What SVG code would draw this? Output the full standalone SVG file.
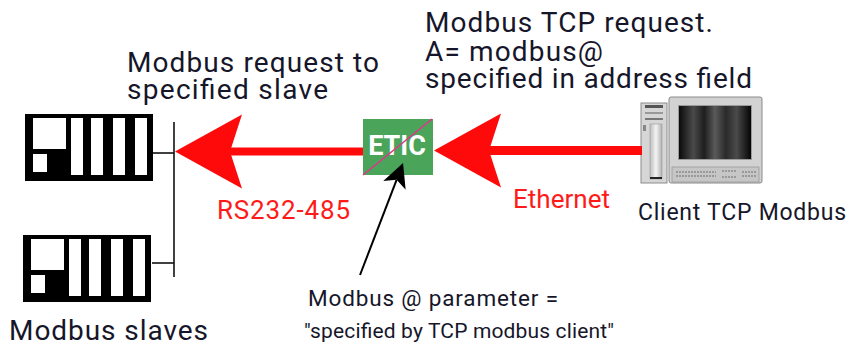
<svg xmlns="http://www.w3.org/2000/svg" width="848" height="347" viewBox="0 0 848 347">
<style>
  .lbl { font-family: Roboto, "Liberation Sans", sans-serif; fill: #16162a; }
  .big { font-size: 28px; }
  .small { font-size: 21px; }
  .red { font-family: Roboto, "Liberation Sans", sans-serif; font-size: 26px; fill: #ff1a1a; }
  .wire { stroke: #111; stroke-width: 1.6; fill: none; }
  .redline { stroke: #ff0a0a; fill: none; }
</style>
<defs>
  <marker id="redHead" markerUnits="userSpaceOnUse" markerWidth="70" markerHeight="80" viewBox="0 0 70 80" refX="12" refY="40" orient="auto" overflow="visible">
    <path d="M0,3 L67,40 L0,77 L12,40 Z" fill="#ff0a0a"/>
  </marker>
  <marker id="blackHead" markerUnits="userSpaceOnUse" markerWidth="26" markerHeight="26" viewBox="0 0 26 26" refX="6" refY="12" orient="auto" overflow="visible">
    <path d="M0,0 L24,12 L0,24 L6,12 Z" fill="#000"/>
  </marker>
  <g id="slaveShape">
    <rect x="0" y="0" width="128" height="67" fill="#000"/>
    <rect x="8" y="4" width="33" height="31" fill="#fff"/>
    <rect x="8" y="40" width="14" height="18" fill="#fff"/>
    <rect x="46" y="4" width="12" height="57" fill="#fff"/>
    <rect x="66" y="4" width="12" height="57" fill="#fff"/>
    <rect x="88" y="4" width="12" height="57" fill="#fff"/>
    <rect x="110" y="4" width="12" height="57" fill="#fff"/>
  </g>
  <linearGradient id="screenGrad" x1="0" y1="0" x2="1" y2="0">
    <stop offset="0" stop-color="#0a0a0a"/>
    <stop offset="0.2" stop-color="#4a4a4a"/>
    <stop offset="0.35" stop-color="#1e1e1e"/>
    <stop offset="0.5" stop-color="#5a5a5a"/>
    <stop offset="0.65" stop-color="#2a2a2a"/>
    <stop offset="0.8" stop-color="#4a4a4a"/>
    <stop offset="1" stop-color="#050505"/>
  </linearGradient>
  <linearGradient id="towerGrad" x1="0" y1="0" x2="1" y2="0">
    <stop offset="0" stop-color="#bdbdbd"/>
    <stop offset="0.5" stop-color="#f4f4f4"/>
    <stop offset="1" stop-color="#b0b0b0"/>
  </linearGradient>
</defs>

<g id="slave1">
  <use href="#slaveShape" x="25" y="114"/>
</g>
<g id="slave2">
  <use href="#slaveShape" x="23" y="235"/>
  <text class="lbl big" x="9" y="340" textLength="199">Modbus slaves</text>
</g>

<g id="etic">
  <rect x="363" y="119" width="70" height="56" fill="#4aa55a"/>
  <text x="397" y="155" text-anchor="middle" font-family="Roboto, 'Liberation Sans', sans-serif" font-weight="bold" font-size="27" fill="#fff">ETIC</text>
  <line x1="363" y1="175" x2="432" y2="119" stroke="#e0358c" stroke-width="1.6"/>
</g>

<g id="client">
  <rect x="641" y="103" width="26" height="80" fill="#d6d6d6" stroke="#8c8c8c" stroke-width="1"/>
  <rect x="645" y="105" width="18" height="3" fill="#555"/>
  <rect x="645" y="112" width="18" height="2" fill="#999"/>
  <rect x="645" y="118" width="18" height="2" fill="#777"/>
  <rect x="643" y="125" width="3" height="6" fill="#888"/>
  <rect x="650" y="124" width="12" height="55" fill="url(#towerGrad)" stroke="#9a9a9a" stroke-width="0.6"/>
  <rect x="650" y="177" width="12" height="2" fill="#222"/>
  <rect x="669" y="97" width="93" height="86" rx="2" fill="#d2d2d2" stroke="#8a8a8a" stroke-width="1"/>
  <rect x="678" y="105" width="74" height="55" fill="#9a9a9a"/>
  <rect x="679" y="106" width="72" height="53" fill="url(#screenGrad)"/>
  <rect x="672" y="167" width="87" height="15" fill="#c6c6c6" stroke="#9a9a9a" stroke-width="0.8"/>
  <path d="M676,172 h40 M676,176 h40 M722,171 h14 M722,177 h14 M742,172 h14 M742,176 h14" stroke="#8a8a8a" stroke-width="1.4" stroke-dasharray="2,1"/>
  <text class="lbl" x="638" y="220" font-size="23" textLength="208">Client TCP Modbus</text>
</g>

<g id="connectors">
  <line class="wire" x1="153" y1="153" x2="174" y2="153"/>
  <line class="wire" x1="152" y1="263" x2="174" y2="263"/>
  <line class="wire" x1="174" y1="122" x2="174" y2="277"/>
  <line class="redline" x1="363" y1="151.5" x2="230" y2="151.5" stroke-width="8" marker-end="url(#redHead)"/>
  <line class="redline" x1="642" y1="150.5" x2="489" y2="150.5" stroke-width="9" marker-end="url(#redHead)"/>
  <line x1="360" y1="275" x2="396.6" y2="179.8" stroke="#000" stroke-width="2" marker-end="url(#blackHead)"/>
</g>

<g id="labels">
  <text class="lbl big" x="127" y="72" textLength="252">Modbus request to</text>
  <text class="lbl big" x="127" y="99" textLength="201">specified slave</text>
  <text class="lbl big" x="425" y="32" textLength="288">Modbus TCP request.</text>
  <text class="lbl big" x="425" y="61" textLength="178">A= modbus@</text>
  <text class="lbl big" x="425" y="88" textLength="327">specified in address field</text>
  <text class="red" x="217" y="219" textLength="133">RS232-485</text>
  <text class="red" x="513" y="208" textLength="97">Ethernet</text>
  <text class="lbl" x="308" y="306" font-size="22.5" textLength="250">Modbus @ parameter =</text>
  <text class="lbl small" x="304" y="338" textLength="310">"specified by TCP modbus client"</text>
</g>
</svg>
